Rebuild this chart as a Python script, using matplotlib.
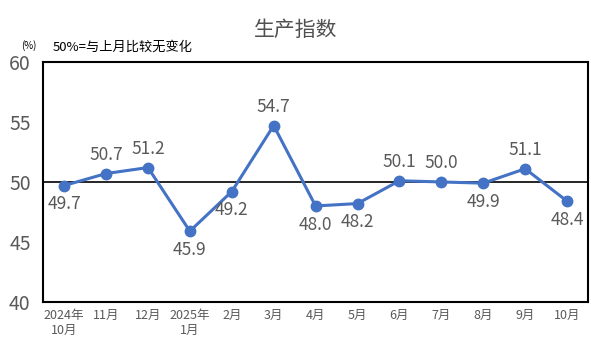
import matplotlib.pyplot as plt

plt.rcParams['font.family'] = ['Noto Sans CJK SC', 'DejaVu Sans']

months = ["2024年\n10月", "11月", "12月", "2025年\n1月", "2月", "3月", "4月",
          "5月", "6月", "7月", "8月", "9月", "10月"]
values = [49.7, 50.7, 51.2, 45.9, 49.2, 54.7, 48.0, 48.2, 50.1, 50.0, 49.9, 51.1, 48.4]
label_above = [False, True, True, False, False, True, False, False, True, True, False, True, False]

gray = "#595959"
blue = "#4472C4"

fig = plt.figure(figsize=(5.91, 3.54), dpi=100)
ax = fig.add_axes([0.073, 0.147, 0.922, 0.678])

x = list(range(len(values)))
ax.plot(x, values, color=blue, linewidth=2.2, marker="o", markersize=7.5, zorder=3)
ax.axhline(50, color="black", linewidth=1.2, zorder=2)

for xi, v, up in zip(x, values, label_above):
    ax.annotate(f"{v:.1f}", (xi, v), xytext=(0, 7 if up else -7),
                textcoords="offset points", ha="center",
                va="bottom" if up else "top", fontsize=12.5, color=gray)

ax.set_xlim(-0.5, len(values) - 0.5)
ax.set_ylim(40, 60)
ax.set_yticks([40, 45, 50, 55, 60])
ax.set_xticks(x)
ax.set_xticklabels(months, fontsize=9, color=gray, linespacing=1.25)
ax.tick_params(axis="y", length=0, labelsize=14, labelcolor=gray, pad=9)
ax.tick_params(axis="x", length=0, pad=5)
for lbl in ax.get_xticklabels():
    lbl.set_verticalalignment("top")
for s in ax.spines.values():
    s.set_color("black")
    s.set_linewidth(1.5)

fig.text(0.5, 0.915, "生产指数", ha="center", va="center", fontsize=15, color="#505050")
fig.text(0.035, 0.87, "(%)", ha="left", va="center", fontsize=7, color="black")
fig.text(0.089, 0.868, "50%=与上月比较无变化", ha="left", va="center", fontsize=9.5, color="black")

fig.savefig("out.png", dpi=100)
